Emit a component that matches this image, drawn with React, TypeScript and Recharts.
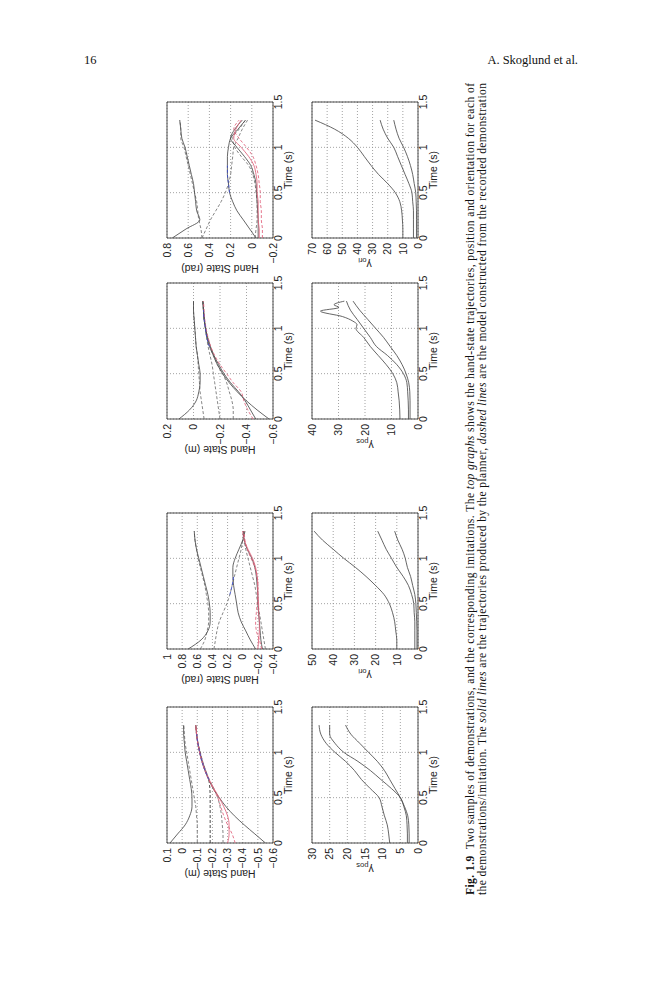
import React from 'react';
import { LineChart, Line, XAxis, YAxis, CartesianGrid, ReferenceArea } from 'recharts';

// ---------- shared axes ----------
const TIME = [0, 0.1, 0.2, 0.3, 0.4, 0.5, 0.6, 0.7, 0.8, 0.9, 1.0, 1.1, 1.2, 1.3];
const TIME_TICKS = [0, 0.5, 1, 1.5];

// ---------- demonstration 1 : hand-state position (m) ----------
const D1_POS_TICKS = [-0.6, -0.5, -0.4, -0.3, -0.2, -0.1, 0, 0.1];
const D1_POS_SOLID_TOP = [0.08, 0.03, -0.02, -0.05, -0.065, -0.065, -0.06, -0.05, -0.04, -0.03, -0.02, -0.015, -0.01, -0.01];
const D1_POS_DASH_TOP = [-0.1, -0.1, -0.1, -0.095, -0.09, -0.08, -0.07, -0.06, -0.05, -0.04, -0.03, -0.02, -0.015, -0.01];
const D1_POS_DASH_MID = [-0.185, -0.185, -0.185, -0.185, -0.185, -0.185, -0.183, -0.175, -0.155, -0.135, -0.12, -0.105, -0.095, -0.09];
const D1_POS_DASH_LOW = [-0.27, -0.27, -0.265, -0.26, -0.25, -0.235, -0.21, -0.18, -0.155, -0.135, -0.118, -0.105, -0.097, -0.09];
const D1_POS_RED_DASH = [-0.35, -0.33, -0.3, -0.275, -0.255, -0.235, -0.205, -0.175, -0.15, -0.13, -0.115, -0.103, -0.095, -0.09];
const D1_POS_RED = [-0.3, -0.31, -0.31, -0.3, -0.275, -0.245, -0.21, -0.178, -0.152, -0.132, -0.116, -0.104, -0.096, -0.09];
const D1_POS_SOLID_DIAG = [-0.55, -0.48, -0.41, -0.345, -0.29, -0.245, -0.205, -0.175, -0.15, -0.13, -0.115, -0.103, -0.095, -0.09];
const D1_POS_BLUE = [null, null, null, null, null, null, null, -0.176, -0.151, -0.131, -0.116, -0.104, -0.096, null];

// ---------- demonstration 1 : hand-state orientation (rad) ----------
const D1_ORI_TICKS = [-0.4, -0.2, 0, 0.2, 0.4, 0.6, 0.8, 1];
const D1_ORI_SOLID_TOP = [0.72, 0.55, 0.46, 0.43, 0.43, 0.44, 0.46, 0.49, 0.52, 0.55, 0.58, 0.61, 0.63, 0.64];
const D1_ORI_DASH_TOP = [0.56, 0.5, 0.47, 0.45, 0.45, 0.46, 0.48, 0.5, 0.53, 0.56, 0.59, 0.61, 0.63, 0.64];
const D1_ORI_SOLID_MID = [-0.17, -0.1, -0.04, 0.02, 0.06, 0.08, 0.1, 0.12, 0.13, 0.13, 0.1, 0.05, 0.0, -0.03];
const D1_ORI_DASH_MID = [0.38, 0.36, 0.34, 0.31, 0.26, 0.21, 0.17, 0.14, 0.11, 0.08, 0.05, 0.02, 0.0, -0.02];
const D1_ORI_BLUE = [null, null, null, null, null, null, 0.17, 0.14, 0.12, null, null, null, null, null];
const D1_ORI_RED = [-0.2, -0.21, -0.22, -0.22, -0.21, -0.21, -0.2, -0.2, -0.19, -0.17, -0.13, -0.07, -0.02, 0.0];
const D1_ORI_RED_DASH = [-0.25, -0.22, -0.18, -0.17, -0.18, -0.19, -0.2, -0.2, -0.19, -0.16, -0.11, -0.06, -0.03, -0.02];
const D1_ORI_SOLID_LOW = [-0.26, -0.24, -0.23, -0.22, -0.21, -0.2, -0.2, -0.19, -0.18, -0.16, -0.12, -0.06, -0.02, -0.01];
const D1_ORI_DASH_LOW = [-0.3, -0.28, -0.26, -0.24, -0.22, -0.2, -0.18, -0.16, -0.13, -0.1, -0.07, -0.04, -0.02, 0.0];

// ---------- demonstration 1 : gamma_pos / gamma_ori ----------
const D1_GPOS_TICKS = [0, 5, 10, 15, 20, 25, 30];
const D1_GPOS_A = [8, 8.3, 8.7, 9.5, 10.2, 11, 13.5, 16, 18, 20.5, 23.5, 26, 27.5, 28];
const D1_GPOS_B = [3, 3, 3.1, 3.3, 4, 5, 7.5, 10.5, 13.5, 17, 21, 23.5, 25, 25];
const D1_GPOS_C = [2.5, 2.5, 2.6, 2.9, 3.8, 5, 6.5, 8, 9.5, 11.5, 14, 16.5, 19, 20.5];

const D1_GORI_TICKS = [0, 10, 20, 30, 40, 50];
const D1_GORI_A = [10, 10, 10.5, 11, 12, 13.5, 16, 20, 24.5, 29.5, 35, 40, 45, 49];
const D1_GORI_B = [1.5, 1.5, 1.5, 1.5, 1.8, 2, 3, 4.5, 7, 10, 12.5, 15, 17, 19];
const D1_GORI_C = [0.5, 0.5, 0.5, 0.6, 0.8, 1, 1.5, 2.5, 3.5, 5, 6, 7.5, 9.5, 11];

// ---------- demonstration 2 : hand-state position (m) ----------
const D2_POS_TICKS = [-0.6, -0.4, -0.2, 0, 0.2];
const D2_POS_SOLID_TOP = [0.11, 0.03, -0.02, -0.04, -0.05, -0.05, -0.04, -0.03, -0.02, -0.015, -0.01, -0.005, 0, 0];
const D2_POS_DASH_TOP = [-0.08, -0.07, -0.06, -0.05, -0.045, -0.04, -0.035, -0.03, -0.02, -0.015, -0.01, -0.005, 0, 0];
const D2_POS_DASH_MID = [-0.2, -0.19, -0.18, -0.17, -0.16, -0.15, -0.14, -0.125, -0.11, -0.1, -0.09, -0.08, -0.075, -0.07];
const D2_POS_DASH_LOW = [-0.3, -0.3, -0.29, -0.27, -0.25, -0.22, -0.18, -0.15, -0.125, -0.105, -0.09, -0.08, -0.075, -0.07];
const D2_POS_RED_DASH = [-0.45, -0.41, -0.38, -0.36, -0.3, -0.25, -0.2, -0.16, -0.13, -0.11, -0.095, -0.085, -0.08, -0.075];
const D2_POS_SOLID_B = [-0.47, -0.43, -0.39, -0.34, -0.28, -0.23, -0.19, -0.155, -0.128, -0.107, -0.092, -0.082, -0.076, -0.072];
const D2_POS_SOLID_DIAG = [-0.57, -0.48, -0.4, -0.33, -0.27, -0.22, -0.18, -0.15, -0.12, -0.1, -0.09, -0.08, -0.075, -0.07];
const D2_POS_BLUE = [null, null, null, null, null, null, null, null, -0.12, -0.1, -0.09, -0.08, -0.075, null];

// ---------- demonstration 2 : hand-state orientation (rad) ----------
const D2_ORI_TICKS = [-0.2, 0, 0.2, 0.4, 0.6, 0.8];
const D2_ORI_SOLID_TOP = [0.75, 0.62, 0.49, 0.52, 0.53, 0.54, 0.55, 0.57, 0.59, 0.61, 0.63, 0.66, 0.67, 0.68];
const D2_ORI_DASH_TOP = [0.47, 0.48, 0.5, 0.51, 0.52, 0.54, 0.56, 0.58, 0.6, 0.62, 0.64, 0.67, 0.67, 0.68];
const D2_ORI_SOLID_MID = [-0.04, 0.02, 0.08, 0.14, 0.18, 0.21, 0.22, 0.23, 0.23, 0.23, 0.22, 0.2, 0.13, 0.06];
const D2_ORI_DASH_MID = [0.47, 0.43, 0.39, 0.34, 0.29, 0.25, 0.22, 0.2, 0.19, 0.18, 0.17, 0.13, 0.09, 0.04];
const D2_ORI_BLUE = [null, null, null, null, null, 0.21, 0.22, 0.23, 0.23, null, null, null, null, null];
const D2_ORI_RED = [-0.07, -0.07, -0.06, -0.06, -0.06, -0.05, -0.05, -0.04, -0.02, 0.03, 0.1, 0.17, 0.15, 0.1];
const D2_ORI_RED_DASH = [-0.1, -0.1, -0.09, -0.09, -0.08, -0.08, -0.07, -0.06, -0.04, -0.01, 0.05, 0.12, 0.17, 0.12];
const D2_ORI_SOLID_LOW = [-0.06, -0.06, -0.06, -0.055, -0.05, -0.045, -0.04, -0.02, 0.01, 0.07, 0.14, 0.2, 0.16, 0.09];
const D2_ORI_DASH_LOW = [-0.03, -0.04, -0.05, -0.05, -0.05, -0.04, -0.03, -0.01, 0.03, 0.1, 0.16, 0.18, 0.12, 0.06];

// ---------- demonstration 2 : gamma_pos / gamma_ori ----------
const D2_GPOS_TICKS = [0, 10, 20, 30, 40];
const D2_GPOS_A_TIME = [0, 0.1, 0.2, 0.3, 0.4, 0.5, 0.6, 0.7, 0.8, 0.9, 1.0, 1.04, 1.08, 1.13, 1.19, 1.23, 1.26, 1.3];
const D2_GPOS_A = [6.8, 6.9, 7.1, 7.5, 8, 9.5, 12, 15, 18, 20.5, 23.4, 23, 24.6, 28.5, 36.8, 29.8, 31.7, 27.8];
const D2_GPOS_B = [3.6, 3.6, 3.7, 3.9, 4.2, 5.5, 8, 11.5, 15.7, 18, 20.5, 23, 25.5, 27];
const D2_GPOS_C = [3, 3, 3, 3.1, 3.5, 4.5, 6, 8, 10.5, 13, 16, 19, 22, 24.5];

const D2_GORI_TICKS = [0, 10, 20, 30, 40, 50, 60, 70];
const D2_GORI_A = [10, 10, 10.3, 10.8, 12, 15, 20, 26, 31, 35.5, 40, 46, 55, 68];
const D2_GORI_B = [3, 3, 3, 3, 3.5, 4, 6, 8.5, 11, 13.5, 16, 20, 23, 25];
const D2_GORI_C = [1, 1, 1, 1, 1.2, 1.5, 2.5, 3.5, 5, 7, 9.5, 12.5, 14.5, 16];

// ---------- text ----------
const HEADER_LEFT = '16';
const HEADER_RIGHT = 'A. Skoglund et al.';

// ---------- styling ----------
const SANS = '"Liberation Sans", Arial, Helvetica, sans-serif';
const SERIF = '"Liberation Serif", "Times New Roman", Times, serif';

type Kind = 'solid' | 'dash' | 'dark' | 'red' | 'redDash' | 'blue';
const KIND_STYLE: Record<Kind, { stroke: string; dash?: string }> = {
  solid: { stroke: '#4a4a4a' },
  dash: { stroke: '#707070', dash: '3 2' },
  dark: { stroke: '#2a2a2a', dash: '3 2' },
  red: { stroke: '#e0607a' },
  redDash: { stroke: '#e0607a', dash: '3 2' },
  blue: { stroke: '#3548c8', dash: '3 2' },
};

type Series = { vals: (number | null)[]; kind: Kind; time?: number[] };

const fmt = (v: number) => {
  const s = String(+Math.abs(v).toFixed(2));
  return v < 0 ? '\u2212' + s : s;
};

// chart geometry
const YW = 58;
const MT = 8;
const PW = 136;
const PH = 106;
const XH = 38;
const MR = 10;

function YLab(props: any) {
  const { text, sub, gap } = props;
  const cx = YW - gap;
  const cy = MT + PH / 2;
  return (
    <text
      x={cx}
      y={cy}
      transform={`rotate(-90 ${cx} ${cy})`}
      textAnchor="middle"
      dominantBaseline="central"
      fontSize={10.5}
      fontFamily={SANS}
      fill="#222"
    >
      {text}
      {sub ? (
        <tspan baselineShift="sub" fontSize={7.5}>
          {sub}
        </tspan>
      ) : null}
    </text>
  );
}

function Panel(props: {
  u: number;
  v: number;
  lo: number;
  hi: number;
  ticks: number[];
  label: React.ReactElement;
  series: Series[];
}) {
  const { u, v, lo, hi, ticks, label, series } = props;
  return (
    <div style={{ position: 'absolute', left: u - YW, top: v - MT }}>
      <LineChart width={YW + PW + MR} height={MT + PH + XH} margin={{ top: MT, right: MR, left: 0, bottom: 0 }}>
        <CartesianGrid stroke="#8c8c8c" strokeDasharray="1 2" strokeWidth={0.8} />
        <XAxis
          type="number"
          dataKey="t"
          domain={[0, 1.5]}
          ticks={TIME_TICKS}
          interval={0}
          allowDataOverflow
          height={XH}
          tickLine={false}
          axisLine={false}
          tickSize={1}
          tickMargin={1}
          tickFormatter={fmt}
          tick={{ fontSize: 10.5, fill: '#222', fontFamily: SANS }}
          label={{ value: 'Time (s)', position: 'insideBottom', offset: 19.5, fontSize: 10.5, fill: '#222', fontFamily: SANS }}
        />
        <YAxis
          type="number"
          domain={[lo, hi]}
          ticks={ticks}
          interval={0}
          allowDataOverflow
          width={YW}
          tickLine={false}
          axisLine={false}
          tickSize={3}
          tickMargin={2}
          tickFormatter={fmt}
          tick={{ fontSize: 10.5, fill: '#222', fontFamily: SANS }}
          label={label}
        />
        <ReferenceArea x1={0} x2={1.5} y1={lo} y2={hi} fill="none" fillOpacity={0} stroke="#3a3a3a" strokeWidth={0.9} />
        {series.map((s, i) => {
          const st = KIND_STYLE[s.kind];
          const tt = s.time || TIME;
          const data = tt.map((t, k) => ({ t, v: s.vals[k] }));
          return (
            <Line
              key={i}
              data={data}
              dataKey="v"
              type="monotone"
              stroke={st.stroke}
              strokeDasharray={st.dash}
              strokeWidth={0.85}
              dot={false}
              activeDot={false}
              isAnimationActive={false}
              connectNulls={false}
            />
          );
        })}
      </LineChart>
    </div>
  );
}

const HAND_GAP = 31;
const GAMMA_GAP = 27;

export default function App() {
  // rotated frame: page x = 100 + v, page y = 905 - u
  return (
    <div style={{ position: 'absolute', left: 0, top: 0, width: 659, height: 1000, background: '#fff', overflow: 'hidden' }}>
      <svg width={659} height={80} style={{ position: 'absolute', left: 0, top: 0 }}>
        <text x={84} y={64} fontFamily={SERIF} fontSize={12.5} fill="#111">
          {HEADER_LEFT}
        </text>
        <text x={578} y={64} textAnchor="end" fontFamily={SERIF} fontSize={12.5} fill="#111">
          {HEADER_RIGHT}
        </text>
      </svg>
      <div
        style={{
          position: 'absolute',
          left: 100,
          top: 905,
          width: 830,
          height: 400,
          transformOrigin: '0 0',
          transform: 'rotate(-90deg)',
        }}
      >
        {/* demonstration 1 */}
        <Panel
          u={62}
          v={67}
          lo={-0.6}
          hi={0.1}
          ticks={D1_POS_TICKS}
          label={<YLab text="Hand State (m)" gap={HAND_GAP} />}
          series={[
            { vals: D1_POS_DASH_TOP, kind: 'dash' },
            { vals: D1_POS_DASH_MID, kind: 'dark' },
            { vals: D1_POS_DASH_LOW, kind: 'dash' },
            { vals: D1_POS_SOLID_TOP, kind: 'solid' },
            { vals: D1_POS_SOLID_DIAG, kind: 'solid' },
            { vals: D1_POS_RED, kind: 'red' },
            { vals: D1_POS_RED_DASH, kind: 'redDash' },
            { vals: D1_POS_BLUE, kind: 'blue' },
          ]}
        />
        <Panel
          u={62}
          v={212}
          lo={0}
          hi={30}
          ticks={D1_GPOS_TICKS}
          label={<YLab text={'\u03b3'} sub="pos" gap={GAMMA_GAP} />}
          series={[
            { vals: D1_GPOS_A, kind: 'solid' },
            { vals: D1_GPOS_B, kind: 'solid' },
            { vals: D1_GPOS_C, kind: 'solid' },
          ]}
        />
        <Panel
          u={256}
          v={67}
          lo={-0.4}
          hi={1}
          ticks={D1_ORI_TICKS}
          label={<YLab text="Hand State (rad)" gap={HAND_GAP} />}
          series={[
            { vals: D1_ORI_DASH_TOP, kind: 'dash' },
            { vals: D1_ORI_DASH_MID, kind: 'dash' },
            { vals: D1_ORI_DASH_LOW, kind: 'dash' },
            { vals: D1_ORI_SOLID_TOP, kind: 'solid' },
            { vals: D1_ORI_SOLID_MID, kind: 'solid' },
            { vals: D1_ORI_SOLID_LOW, kind: 'solid' },
            { vals: D1_ORI_RED, kind: 'red' },
            { vals: D1_ORI_RED_DASH, kind: 'redDash' },
            { vals: D1_ORI_BLUE, kind: 'blue' },
          ]}
        />
        <Panel
          u={256}
          v={212}
          lo={0}
          hi={50}
          ticks={D1_GORI_TICKS}
          label={<YLab text={'\u03b3'} sub="ori" gap={GAMMA_GAP} />}
          series={[
            { vals: D1_GORI_A, kind: 'solid' },
            { vals: D1_GORI_B, kind: 'solid' },
            { vals: D1_GORI_C, kind: 'solid' },
          ]}
        />
        {/* demonstration 2 */}
        <Panel
          u={486}
          v={67}
          lo={-0.6}
          hi={0.2}
          ticks={D2_POS_TICKS}
          label={<YLab text="Hand State (m)" gap={HAND_GAP} />}
          series={[
            { vals: D2_POS_DASH_TOP, kind: 'dash' },
            { vals: D2_POS_DASH_MID, kind: 'dash' },
            { vals: D2_POS_DASH_LOW, kind: 'dash' },
            { vals: D2_POS_SOLID_TOP, kind: 'solid' },
            { vals: D2_POS_SOLID_B, kind: 'solid' },
            { vals: D2_POS_SOLID_DIAG, kind: 'solid' },
            { vals: D2_POS_RED_DASH, kind: 'redDash' },
            { vals: D2_POS_BLUE, kind: 'blue' },
          ]}
        />
        <Panel
          u={486}
          v={212}
          lo={0}
          hi={40}
          ticks={D2_GPOS_TICKS}
          label={<YLab text={'\u03b3'} sub="pos" gap={GAMMA_GAP} />}
          series={[
            { vals: D2_GPOS_A, kind: 'solid', time: D2_GPOS_A_TIME },
            { vals: D2_GPOS_B, kind: 'solid' },
            { vals: D2_GPOS_C, kind: 'solid' },
          ]}
        />
        <Panel
          u={667}
          v={67}
          lo={-0.2}
          hi={0.8}
          ticks={D2_ORI_TICKS}
          label={<YLab text="Hand State (rad)" gap={HAND_GAP} />}
          series={[
            { vals: D2_ORI_DASH_TOP, kind: 'dash' },
            { vals: D2_ORI_DASH_MID, kind: 'dash' },
            { vals: D2_ORI_DASH_LOW, kind: 'dash' },
            { vals: D2_ORI_SOLID_TOP, kind: 'solid' },
            { vals: D2_ORI_SOLID_MID, kind: 'solid' },
            { vals: D2_ORI_SOLID_LOW, kind: 'solid' },
            { vals: D2_ORI_RED, kind: 'red' },
            { vals: D2_ORI_RED_DASH, kind: 'redDash' },
            { vals: D2_ORI_BLUE, kind: 'blue' },
          ]}
        />
        <Panel
          u={667}
          v={212}
          lo={0}
          hi={70}
          ticks={D2_GORI_TICKS}
          label={<YLab text={'\u03b3'} sub="ori" gap={GAMMA_GAP} />}
          series={[
            { vals: D2_GORI_A, kind: 'solid' },
            { vals: D2_GORI_B, kind: 'solid' },
            { vals: D2_GORI_C, kind: 'solid' },
          ]}
        />
        {/* caption */}
        <svg width={830} height={400} style={{ position: 'absolute', left: 0, top: 0, pointerEvents: 'none' }}>
          <text x={10} y={373.5} fontFamily={SERIF} fontSize={11.5} fill="#111" textLength={812} lengthAdjust="spacing">
            <tspan fontWeight="bold">Fig. 1.9</tspan>
            {'\u2002Two samples of demonstrations, and the corresponding imitations. The '}
            <tspan fontStyle="italic">top graphs</tspan>
            {' shows the hand-state trajectories, position and orientation for each of'}
          </text>
          <text x={10} y={386} fontFamily={SERIF} fontSize={11.5} fill="#111" textLength={812} lengthAdjust="spacing">
            {'the demonstrations/imitation. The '}
            <tspan fontStyle="italic">solid lines</tspan>
            {' are the trajectories produced by the planner, '}
            <tspan fontStyle="italic">dashed lines</tspan>
            {' are the model constructed from the recorded demonstration'}
          </text>
        </svg>
      </div>
    </div>
  );
}
